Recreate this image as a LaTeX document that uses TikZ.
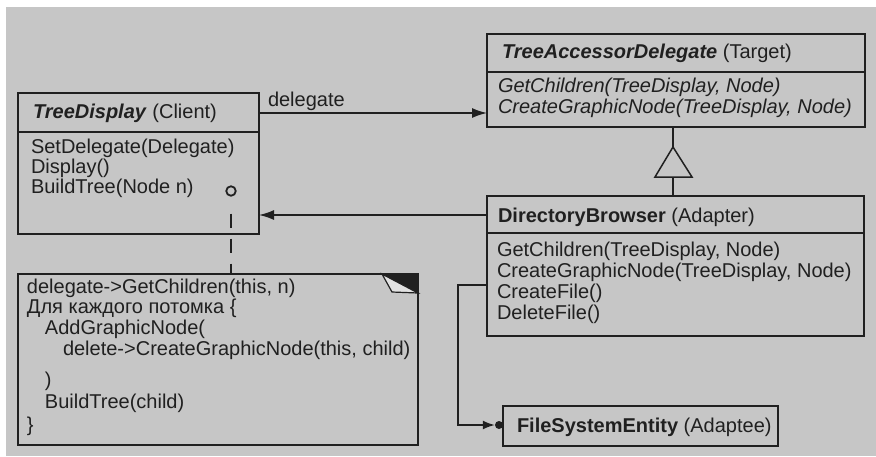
\documentclass[tikz,border=0pt]{standalone}
\usepackage{fontspec}
\setmainfont{Liberation Sans}
\usetikzlibrary{arrows.meta}
\definecolor{paper}{RGB}{198,198,198}
\definecolor{ink}{RGB}{32,32,32}
\definecolor{flap}{RGB}{225,225,225}
\begin{document}
\begin{tikzpicture}[x=1pt,y=-1pt,
  cls/.style={draw=ink, line width=1.6pt, rectangle, anchor=north west, inner sep=0pt, outer sep=0pt},
  divline/.style={draw=ink, line width=1.6pt},
  txt/.style={anchor=base west, inner sep=0pt, outer sep=0pt, text=ink, font=\fontsize{20}{21}\selectfont},
  arr/.style={draw=ink, line width=1.5pt, -{Latex[length=15pt,width=10pt]}},
  smallarr/.style={draw=ink, line width=1.5pt, -{Latex[length=12pt,width=9pt]}},
  plain/.style={draw=ink, line width=1.5pt},
  noteline/.style={draw=ink, line width=1.6pt, dash pattern=on 14pt off 11pt, dash phase=14pt, shorten <=6pt}
]
\useasboundingbox (0,0) rectangle (876,456);
\fill[white] (0,0) rectangle (876,456);
\fill[paper] (6,7) rectangle (876,456);

% TreeDisplay (Client)
\node[cls, minimum width=241pt, minimum height=141pt] (td) at (18,93) {};
\draw[divline] (td.west |- 0,132) -- (td.east |- 0,132);
\node[txt] (tdh) at (33,118) {\textbf{\textit{TreeDisplay}} (Client)};
\node[txt] (tdm1) at (31,153) {SetDelegate(Delegate)};
\node[txt] (tdm2) at (31,173) {Display()};
\node[txt] (tdm3) at (31,193) {BuildTree(Node n)};
\node[circle, draw=ink, line width=1.8pt, minimum size=9.5pt, inner sep=0pt] (hook) at (231,191) {};

% TreeAccessorDelegate (Target)
\node[cls, minimum width=378pt, minimum height=93pt] (tad) at (487,34) {};
\draw[divline] (tad.west |- 0,72) -- (tad.east |- 0,72);
\node[txt] (tadh) at (502,58) {\textbf{\textit{TreeAccessorDelegate}} (Target)};
\node[txt] (tadm1) at (498,92) {\textit{GetChildren(TreeDisplay, Node)}};
\node[txt] (tadm2) at (498,113) {\textit{CreateGraphicNode(TreeDisplay, Node)}};

% DirectoryBrowser (Adapter)
\node[cls, minimum width=377pt, minimum height=140pt] (db) at (487,196) {};
\draw[divline] (db.west |- 0,233) -- (db.east |- 0,233);
\node[txt] (dbh) at (498,222) {\textbf{DirectoryBrowser} (Adapter)};
\node[txt] (dbm1) at (497,256) {GetChildren(TreeDisplay, Node)};
\node[txt] (dbm2) at (497,277) {CreateGraphicNode(TreeDisplay, Node)};
\node[txt] (dbm3) at (497,298) {CreateFile()};
\node[txt] (dbm4) at (497,319) {DeleteFile()};

% FileSystemEntity (Adaptee)
\node[cls, minimum width=275pt, minimum height=40pt] (fse) at (503,406) {};
\node[txt] (fseh) at (517,432) {\textbf{FileSystemEntity} (Adaptee)};
\node[circle, fill=ink, minimum size=8pt, inner sep=0pt] (many) at (499,425) {};

% Note
\node[cls, minimum width=400pt, minimum height=171pt] (note) at (18,274) {};
\fill[ink] (382,274) -- (418,274) -- (418,293) -- cycle;
\filldraw[fill=flap, draw=ink, line width=1.2pt] (382,274) -- (392,292) -- (418,293) -- cycle;
\node[txt] (n1) at (27,293) {delegate->GetChildren(this, n)};
\node[txt] (n2) at (27,313) {Для каждого потомка \{};
\node[txt] (n3) at (45,334) {AddGraphicNode(};
\node[txt] (n4) at (63,355) {delete->CreateGraphicNode(this, child)};
\node[txt] (n5) at (45,386) {)};
\node[txt] (n6) at (45,408) {BuildTree(child)};
\node[txt] (n7) at (27,431) {\}};

% Connectors
\node[txt] (lbl) at (268,106) {delegate};
\draw[arr] (td.east |- 0,113) -- (tad.west |- 0,113);
\draw[arr] (db.west |- 0,215) -- (td.east |- 0,215);
\coordinate (apex) at (673,147);
\coordinate (base) at (673,177);
\draw[plain] (tad.south -| apex) -- (apex);
\draw[plain] (apex) -- (655,177) -- (692,177) -- cycle;
\draw[plain] (base) -- (db.north -| base);
\coordinate (bend) at (458,285);
\draw[smallarr] (db.west |- bend) -- (bend) |- (many.west);
\draw[noteline] (hook.south) -- (note.north -| hook);
\end{tikzpicture}
\end{document}
